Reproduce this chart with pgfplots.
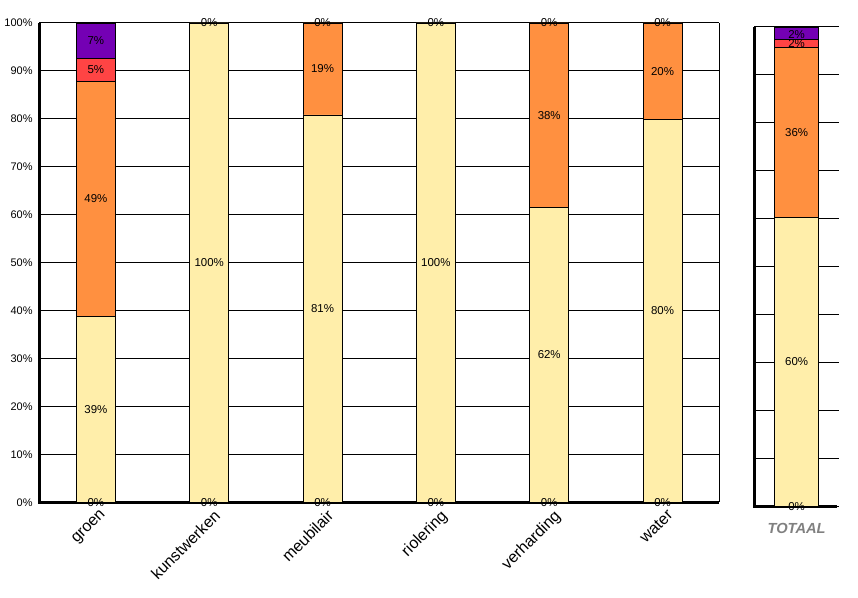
\documentclass[border=0pt]{standalone}
\usepackage{pgfplots}
\pgfplotsset{compat=1.18}
\usepackage{fontspec}
\setmainfont{Liberation Sans}

\definecolor{cyellow}{HTML}{FFEEAA}
\definecolor{corange}{HTML}{FF9040}
\definecolor{cred}{HTML}{FF4444}
\definecolor{cpurple}{HTML}{7400B4}

\pgfplotsset{
  panel/.style={
    scale only axis, height=360pt, ymin=0, ymax=100,
    axis line style={draw=none}, major tick length=0pt,
    ytick={0,10,...,100},
    ymajorgrids, major grid style={black, line width=0.75pt},
    clip=false,
  },
  labels/.style={
    scale only axis, height=360pt, ymin=0, ymax=100, hide axis, clip=false,
  },
  seg/.style={fill=#1, draw=black, line width=0.6pt},
  lab/.style={draw=none, nodes near coords, point meta=explicit symbolic,
    nodes near coords align={center},
    every node near coord/.append style={font=\fontsize{8.6}{10}\selectfont, text=black, inner sep=0pt}},
}

\begin{document}
\begin{tikzpicture}
\path (0,0) rectangle (643.5pt,448.5pt);

% main panel
\begin{axis}[panel,
  at={(28.5pt,71.25pt)}, anchor=south west, width=510.75pt,
  xmin=-0.5, xmax=5.5,
  ybar stacked, bar width=29.25pt,
  yticklabels={0\%,10\%,20\%,30\%,40\%,50\%,60\%,70\%,80\%,90\%,100\%},
  yticklabel style={font=\fontsize{8.25}{10}\selectfont, xshift=-1.5pt},
  xtick={0,...,5},
  xticklabels={groen,kunstwerken,meubilair,riolering,verharding,water},
  xticklabel style={rotate=45, anchor=north east, font=\fontsize{12}{14}\selectfont, yshift=-2pt, xshift=2pt},
]
\addplot[seg=cyellow]  coordinates {(0,38.8) (1,100) (2,80.8) (3,100) (4,61.5) (5,79.8)};
\addplot[seg=corange]  coordinates {(0,49.0) (1,0) (2,19.2) (3,0) (4,38.5) (5,20.2)};
\addplot[seg=cred]     coordinates {(0,4.8) (1,0) (2,0) (3,0) (4,0) (5,0)};
\addplot[seg=cpurple]  coordinates {(0,7.4) (1,0) (2,0) (3,0) (4,0) (5,0)};
\draw[line width=2.25pt] (rel axis cs:0,1) -- (rel axis cs:0,0) -- (rel axis cs:1,0);
\draw[line width=0.75pt] (rel axis cs:1,0) -- (rel axis cs:1,1);
\end{axis}

\begin{axis}[labels,
  at={(28.5pt,71.25pt)}, anchor=south west, width=510.75pt,
  xmin=-0.5, xmax=5.5,
]
\addplot[lab] coordinates {
  (0,0) [0\%] (0,19.4) [39\%] (0,63.3) [49\%] (0,90.2) [5\%] (0,96.3) [7\%]
  (1,0) [0\%] (1,50) [100\%] (1,100) [0\%]
  (2,0) [0\%] (2,40.4) [81\%] (2,90.4) [19\%] (2,100) [0\%]
  (3,0) [0\%] (3,50) [100\%] (3,100) [0\%]
  (4,0) [0\%] (4,30.75) [62\%] (4,80.75) [38\%] (4,100) [0\%]
  (5,0) [0\%] (5,39.9) [80\%] (5,89.9) [20\%] (5,100) [0\%]
};
\end{axis}

% total panel
\begin{axis}[panel,
  at={(565.5pt,68.25pt)}, anchor=south west, width=63.75pt,
  xmin=-0.5, xmax=0.5,
  ybar stacked, bar width=33pt,
  yticklabels={},
  xtick={0}, xticklabels={TOTAAL},
  xticklabel style={font=\fontsize{11}{13}\selectfont\bfseries\itshape, text=black!50, yshift=-9pt},
]
\addplot[seg=cyellow]  coordinates {(0,60.2)};
\addplot[seg=corange]  coordinates {(0,35.6)};
\addplot[seg=cred]     coordinates {(0,1.7)};
\addplot[seg=cpurple]  coordinates {(0,2.5)};
\draw[line width=2.25pt] (rel axis cs:0,1) -- (rel axis cs:0,0) -- (rel axis cs:0.98,0);
\end{axis}

\begin{axis}[labels,
  at={(565.5pt,68.25pt)}, anchor=south west, width=63.75pt,
  xmin=-0.5, xmax=0.5,
]
\addplot[lab] coordinates {
  (0,0) [0\%] (0,30.1) [60\%] (0,78) [36\%] (0,96.6) [2\%] (0,98.5) [2\%]
};
\end{axis}
\end{tikzpicture}
\end{document}
